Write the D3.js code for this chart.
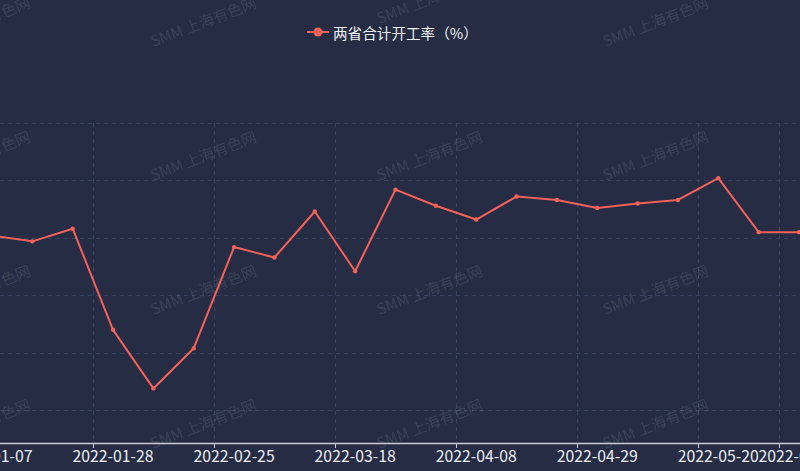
<!DOCTYPE html>
<html>
<head>
<meta charset="utf-8">
<script src="https://cdn.jsdelivr.net/npm/d3@7/dist/d3.min.js"></script>
<style>
  html, body { margin: 0; padding: 0; background: #252c44; overflow: hidden; }
  svg { display: block; }
</style>
</head>
<body>
<svg id="chart" width="800" height="471"></svg>
<script>
// ---- data ----
const categories = [
  '2022-01-07','2022-01-14','2022-01-21','2022-01-28','2022-02-11','2022-02-18',
  '2022-02-25','2022-03-04','2022-03-11','2022-03-18','2022-03-25','2022-04-01',
  '2022-04-08','2022-04-15','2022-04-22','2022-04-29','2022-05-06','2022-05-13',
  '2022-05-20','2022-05-27','2022-06-03'
];
const seriesName = '两省合计开工率（%）';
const values = [
  70.2, 69.7, 70.8, 62.0, 56.9, 60.4,
  69.2, 68.3, 72.3, 67.1, 74.2, 72.8,
  71.6, 73.6, 73.3, 72.6, 73.0, 73.3,
  75.2, 70.5, 70.5
];
const xTickLabels = ['2022-01-07','2022-01-28','2022-02-25','2022-03-18','2022-04-08','2022-04-29','2022-05-20','2022-06-03'];
const yTicks = [55, 60, 65, 70, 75, 80];
const watermarkText = 'SMM 上海有色网';

// ---- layout ----
const W = 800, H = 471;
const plotTop = 123, plotBottom = 443;
const bg = '#252c44';
const lineColor = '#f2625a';
const gridColor = '#36425f';

const svg = d3.select('#chart');
svg.append('rect').attr('width', W).attr('height', H).attr('fill', bg);

const x = d3.scaleBand().domain(categories).range([-28.2, 819.2]);
const y = d3.scaleLinear().domain([52.15, 80]).range([plotBottom, plotTop]);
const cx = d => x(d) + x.bandwidth() / 2;

// horizontal grid
svg.append('g').selectAll('line').data(yTicks).join('line')
  .attr('x1', 0).attr('x2', W)
  .attr('y1', d => Math.round(y(d)) + 0.5).attr('y2', d => Math.round(y(d)) + 0.5)
  .attr('stroke', gridColor).attr('stroke-width', 1).attr('stroke-dasharray', '4,4');

// vertical grid at left boundary of labelled categories
svg.append('g').selectAll('line').data(xTickLabels).join('line')
  .attr('x1', d => Math.round(x(d)) + 0.5).attr('x2', d => Math.round(x(d)) + 0.5)
  .attr('y1', plotTop).attr('y2', plotBottom)
  .attr('stroke', gridColor).attr('stroke-width', 1).attr('stroke-dasharray', '4,4');

// watermark
const wmCols = [-23, 203, 429, 655, 881];
const wmRows = [21, 155, 289, 423];
const wm = svg.append('g');
wmCols.forEach((c, ci) => {
  wmRows.forEach((r, ri) => {
    const yy = (ci === 2 && ri === 0) ? -2 : r;
    wm.append('text')
      .attr('transform', `translate(${c},${yy}) rotate(-21)`)
      .attr('text-anchor', 'middle').attr('dominant-baseline', 'central')
      .attr('font-family', '"Noto Sans CJK SC", "Noto Sans", sans-serif')
      .attr('font-size', 15)
      .attr('fill', '#ffffff').attr('fill-opacity', 0.11)
      .text(watermarkText);
  });
});

// x axis
const xAxis = d3.axisBottom(x).tickValues(xTickLabels).tickSize(0).tickPadding(8);
const gx = svg.append('g').attr('transform', `translate(0,${plotBottom})`).call(xAxis);
gx.select('.domain').attr('stroke', '#c9cbd8').attr('stroke-width', 1.3);
gx.selectAll('text')
  .attr('fill', '#eceef3')
  .attr('font-family', '"Noto Sans CJK SC", "Noto Sans", sans-serif')
  .attr('font-size', 15.8);
// tick marks at category boundaries
gx.append('g').selectAll('line').data(xTickLabels).join('line')
  .attr('x1', d => Math.round(x(d)) + 0.5).attr('x2', d => Math.round(x(d)) + 0.5)
  .attr('y1', 0).attr('y2', 5)
  .attr('stroke', '#c9cbd8').attr('stroke-width', 1);

// line
const line = d3.line().x((d, i) => cx(categories[i])).y(d => y(d));
svg.append('path').datum(values)
  .attr('d', line)
  .attr('fill', 'none').attr('stroke', lineColor).attr('stroke-width', 2)
  .attr('stroke-linejoin', 'round');

svg.append('g').selectAll('circle').data(values).join('circle')
  .attr('cx', (d, i) => cx(categories[i])).attr('cy', d => y(d))
  .attr('r', 2.2).attr('fill', lineColor);

// legend
const lg = svg.append('g').attr('transform', 'translate(307,32)');
lg.append('line').attr('x1', 0).attr('x2', 22).attr('y1', 0).attr('y2', 0)
  .attr('stroke', lineColor).attr('stroke-width', 2);
lg.append('circle').attr('cx', 11).attr('cy', 0).attr('r', 4.5).attr('fill', lineColor);
lg.append('text').attr('x', 26).attr('y', 0)
  .attr('dominant-baseline', 'central')
  .attr('font-family', '"Noto Sans CJK SC", "Noto Sans", sans-serif')
  .attr('font-size', 14.6).attr('fill', '#eef0f4')
  .text(seriesName);
</script>
</body>
</html>
